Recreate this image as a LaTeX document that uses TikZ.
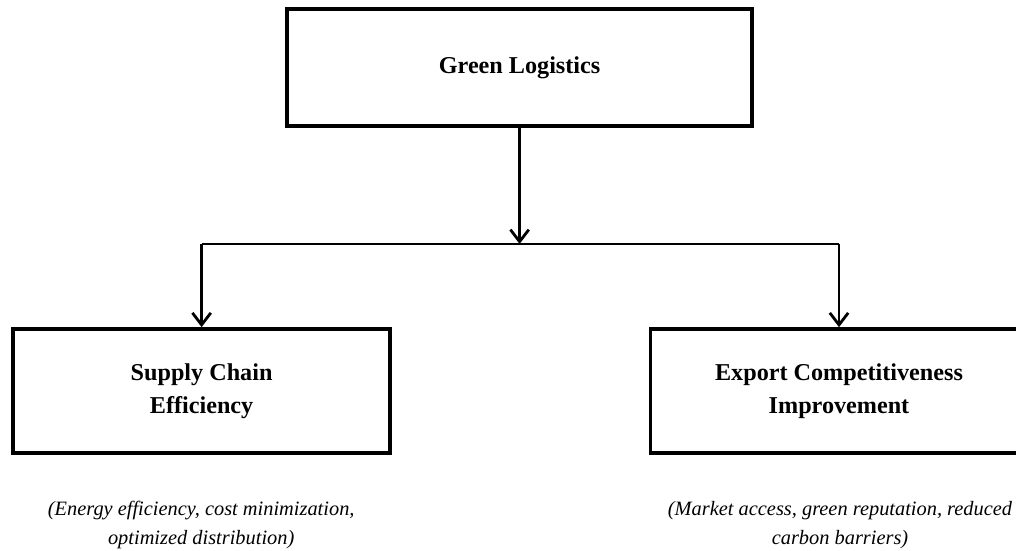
\documentclass[tikz,border=0pt]{standalone}
\usepackage{fontspec}
\setmainfont{Liberation Serif}
\usepackage{tikz}
\usetikzlibrary{arrows.meta, positioning, calc}

\begin{document}
\begin{tikzpicture}[
        box/.style={rectangle, draw, line width=2.6pt, minimum width=9.425cm, minimum height=3.1cm, align=center, font=\fontsize{17.2}{23.5}\selectfont\bfseries},
        note/.style={align=center, font=\fontsize{14.5}{21}\selectfont\itshape},
        line/.style={draw, line width=2pt, -{Straight Barb[length=3mm, width=4.6mm]}}
    ]
        \useasboundingbox (0,0) rectangle (25.4,-13.775);

        \node [box, minimum width=11.625cm, minimum height=2.925cm] (green) at (12.99,-1.69) {Green Logistics};
        \node [box] (supply) at (5.04,-9.775) {Supply Chain\\Efficiency};
        \node [box] (export) at (20.975,-9.775) {Export Competitiveness\\Improvement};

        \node [note] (supplynote) at (5.03,-13.125) {(Energy efficiency, cost minimization,\\optimized distribution)};
        \node [note] (exportnote) at (21.0,-13.125) {(Market access, green reputation, reduced\\carbon barriers)};

        \coordinate (split) at ($(green.south)+(0,-2.9)$);

        \path [line] (green) -- (split);
        \draw [line width=2pt] (split -| supply) -- (split -| export);
        \path [line] (split -| supply) -- (supply);
        \path [line] (split -| export) -- (export);
    \end{tikzpicture}
\end{document}
